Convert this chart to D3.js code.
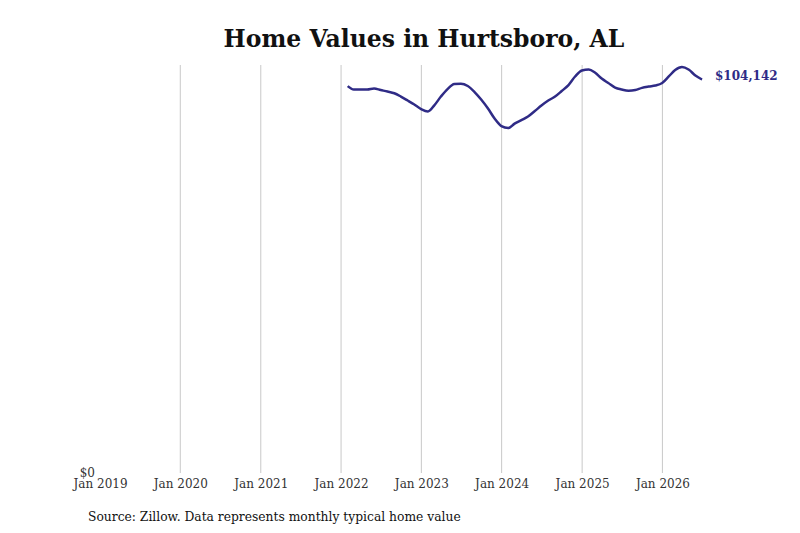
<!DOCTYPE html>
<html>
<head>
<meta charset="utf-8">
<script src="https://cdn.jsdelivr.net/npm/d3@7"></script>
<style>
  body { margin: 0; background: #fff; }
  svg { font-family: "DejaVu Serif", serif; }
</style>
</head>
<body>
<svg id="chart"></svg>
<script>
// monthly typical home value, Jan 2022 .. Jun 2026 (end of month)
const startMonth = '2022-01';
const values = [
  102400, 101500, 101500, 101500, 101760, 101360, 100960, 100510, 99640, 98580, 97520, 96330,
  95700, 97250, 99640, 101620, 102950, 103030, 102420, 100830, 98840, 96460, 93810, 91820,
  91300, 92480, 93410, 94340, 95800, 97250, 98580, 99640, 101100, 102680, 104940, 106530,
  106790, 106000, 104410, 103220, 102020, 101490, 101180, 101360, 101940, 102290, 102550, 103220,
  105020, 106660, 107460, 106790, 105200, 104142
];
const tickYears = [2019, 2020, 2021, 2022, 2023, 2024, 2025, 2026];
const title = 'Home Values in Hurtsboro, AL';
const source = 'Source: Zillow. Data represents monthly typical home value';

const [sy, sm] = startMonth.split('-').map(Number);
// Zillow dates are end of month
const data = values.map((v, i) => ({
  date: new Date(sy, sm - 1 + i + 1, 0),
  value: v
}));

const width = 800;
const height = 533;
const margin = { top: 66, right: 98, bottom: 60, left: 100 };

const svg = d3.select('#chart')
  .attr('width', width)
  .attr('height', height);

const x = d3.scaleTime()
  .domain([new Date(tickYears[0], 0, 1), data[data.length - 1].date])
  .range([margin.left, width - margin.right]);

const y = d3.scaleLinear()
  .domain([0, d3.max(values)])
  .range([height - margin.bottom, margin.top + 1]);

// title
svg.append('text')
  .attr('x', 424)
  .attr('y', 47)
  .attr('text-anchor', 'middle')
  .attr('font-size', 23.5)
  .attr('font-weight', 'bold')
  .attr('fill', '#111')
  .text(title);

// vertical grid
svg.append('g')
  .selectAll('line')
  .data(tickYears.slice(1))
  .join('line')
  .attr('x1', d => x(new Date(d, 0, 1)))
  .attr('x2', d => x(new Date(d, 0, 1)))
  .attr('y1', margin.top - 1)
  .attr('y2', height - margin.bottom)
  .attr('stroke', '#c8c8c8')
  .attr('stroke-width', 1);

// x axis
const xAxis = svg.append('g')
  .attr('transform', `translate(0, ${height - margin.bottom})`)
  .call(d3.axisBottom(x)
    .tickValues(tickYears.map(yr => new Date(yr, 0, 1)))
    .tickFormat(d3.timeFormat('%b %Y'))
    .tickSize(0)
    .tickPadding(6));
xAxis.select('.domain').remove();
xAxis.selectAll('text')
  .attr('font-family', '"DejaVu Serif", serif')
  .attr('font-size', 12)
  .attr('fill', '#333');

// y axis, only $0
const yAxis = svg.append('g')
  .attr('transform', `translate(${margin.left}, 0)`)
  .call(d3.axisLeft(y)
    .tickValues([0])
    .tickFormat(d3.format('$,.0f'))
    .tickSize(0)
    .tickPadding(5));
yAxis.select('.domain').remove();
yAxis.selectAll('text')
  .attr('font-family', '"DejaVu Serif", serif')
  .attr('font-size', 12)
  .attr('fill', '#333');

// line
const line = d3.line()
  .x(d => x(d.date))
  .y(d => y(d.value))
  .curve(d3.curveMonotoneX);

svg.append('path')
  .datum(data)
  .attr('fill', 'none')
  .attr('stroke', '#2f2b86')
  .attr('stroke-width', 2.5)
  .attr('stroke-linejoin', 'round')
  .attr('d', line);

// end label
const last = data[data.length - 1];
svg.append('text')
  .attr('x', x(last.date) + 13)
  .attr('y', y(last.value))
  .attr('dy', '0.05em')
  .attr('font-size', 12)
  .attr('font-weight', 'bold')
  .attr('fill', '#2f2b86')
  .text(d3.format('$,.0f')(last.value));

// source
svg.append('text')
  .attr('x', 88)
  .attr('y', 521)
  .attr('font-size', 12.3)
  .attr('fill', '#111')
  .text(source);
</script>
</body>
</html>
